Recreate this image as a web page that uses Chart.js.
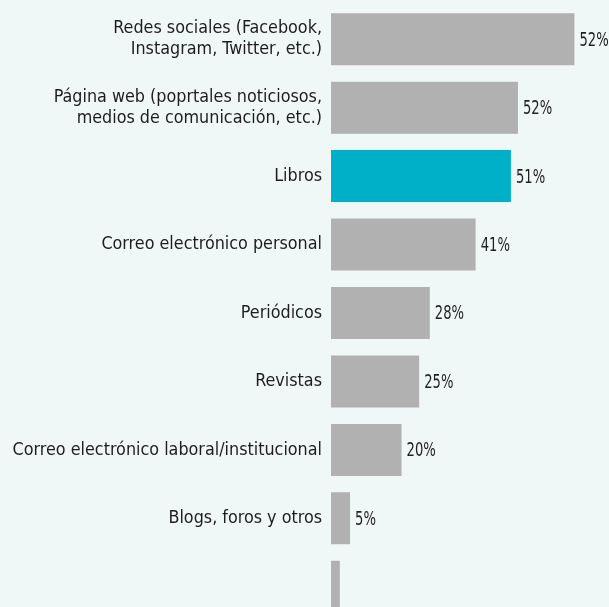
<!DOCTYPE html>
<html>
<head>
<meta charset="utf-8">
<script src="https://cdn.jsdelivr.net/npm/chart.js@4"></script>
<style>
  html, body { margin: 0; padding: 0; background: #eff8f7; overflow: hidden; }
  #wrap { width: 609px; height: 625px; position: relative; }
</style>
</head>
<body>
<div id="wrap"><canvas id="chart"></canvas></div>
<script>
// categories (multi-line labels as arrays)
const categories = [
  ['Redes sociales (Facebook,', 'Instagram, Twitter, etc.)'],
  ['Página web (poprtales noticiosos,', 'medios de comunicación, etc.)'],
  'Libros',
  'Correo electrónico personal',
  'Periódicos',
  'Revistas',
  'Correo electrónico laboral/institucional',
  'Blogs, foros y otros',
  ''
];
// bar lengths as drawn in the picture
const barValues = [69, 53, 51, 41, 28, 25, 20, 5.4, 2.5];
// value labels as printed next to each bar
const valueLabels = ['52%', '52%', '51%', '41%', '28%', '25%', '20%', '5%', ''];
const highlight = 'Libros';

const GRAY = '#b1b1b1';
const TEAL = '#00b0c9';
const FONT = "'Liberation Sans Narrow', 'DejaVu Sans Condensed', sans-serif";

// value labels: tall narrow type, squeezed horizontally
const valueLabelPlugin = {
  id: 'valueLabels',
  afterDatasetsDraw(chart) {
    const ctx = chart.ctx;
    const meta = chart.getDatasetMeta(0);
    ctx.save();
    ctx.font = '19px ' + FONT;
    ctx.fillStyle = '#231f20';
    ctx.textAlign = 'left';
    ctx.textBaseline = 'middle';
    meta.data.forEach(function (bar, i) {
      if (!valueLabels[i]) return;
      ctx.save();
      ctx.translate(bar.x + 5, bar.y + 1.5);
      ctx.scale(0.77, 1);
      ctx.fillText(valueLabels[i], 0, 0);
      ctx.restore();
    });
    ctx.restore();
  }
};

let ctx1 = document.getElementById('chart').getContext('2d');
window.myBar = new Chart(ctx1, {
  type: 'bar',
  data: {
    labels: categories,
    datasets: [{
      data: barValues,
      backgroundColor: categories.map(c => c === highlight ? TEAL : GRAY),
      borderWidth: 0,
      barPercentage: 0.76,
      categoryPercentage: 1
    }]
  },
  options: {
    indexAxis: 'y',
    responsive: true,
    maintainAspectRatio: false,
    animation: false,
    layout: { padding: { top: 5, bottom: 4, left: 0, right: 0 } },
    plugins: {
      legend: { display: false },
      tooltip: { enabled: false }
    },
    scales: {
      x: {
        display: false,
        min: 0,
        max: 78.8
      },
      y: {
        grid: { display: false, drawTicks: false, tickLength: 0 },
        border: { display: false },
        ticks: {
          color: '#1f1c1d',
          padding: 9,
          font: { family: FONT, size: 17.8, lineHeight: 1.18 }
        },
        afterFit(scale) {
          scale.width = 331;
          scale.paddingTop = 0;
          scale.paddingBottom = 0;
        }
      }
    }
  },
  plugins: [valueLabelPlugin]
});
</script>
</body>
</html>
